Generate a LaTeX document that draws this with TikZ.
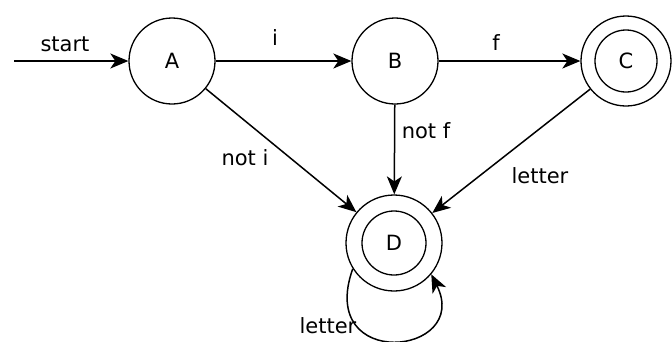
\documentclass[tikz,border=0pt]{standalone}
\usepackage{fontspec}
\setmainfont{DejaVu Sans}
\usetikzlibrary{arrows.meta}
\begin{document}
\begin{tikzpicture}[x=1pt,y=-1pt,
  state/.style={circle,draw,line width=1.3pt,minimum size=86pt,inner sep=0pt,font=\fontsize{21}{24}\selectfont},
  edge/.style={line width=1.5pt,-{Stealth[length=18pt,width=15pt,inset=5pt]}},
  lbl/.style={font=\fontsize{21}{24}\selectfont,inner sep=0pt}]
\useasboundingbox[fill=white] (0,0) rectangle (672,341);
\node[state] (A) at (172,61) {A};
\node[state] (B) at (395,61) {B};
\node[state,minimum size=90pt] (C) at (626,61) {C};
\draw[line width=1.3pt] (C.center) circle (31pt);
\node[state,minimum size=96pt] (D) at (394,243) {D};
\draw[line width=1.3pt] (D.center) circle (32pt);
\coordinate (S) at (14,61);
\draw[edge] (S) -- (A);
\draw[edge] (A) -- (B);
\draw[edge] (B) -- (C);
\draw[edge] (A) -- (D);
\draw[edge] (B) -- (D);
\draw[edge] (C) -- (D);
\draw[edge] (D.212) .. controls (316,372) and (472,356) .. (D.-40);
\node[lbl] (ls) at (65,44) {start};
\node[lbl] (li) at (275,38) {i};
\node[lbl] (lf) at (496,43) {f};
\node[lbl] (lni) at (245,158) {not i};
\node[lbl] (lnf) at (426,131) {not f};
\node[lbl] (lcl) at (540,176) {letter};
\node[lbl] (ldl) at (328,326) {letter};
\end{tikzpicture}
\end{document}
